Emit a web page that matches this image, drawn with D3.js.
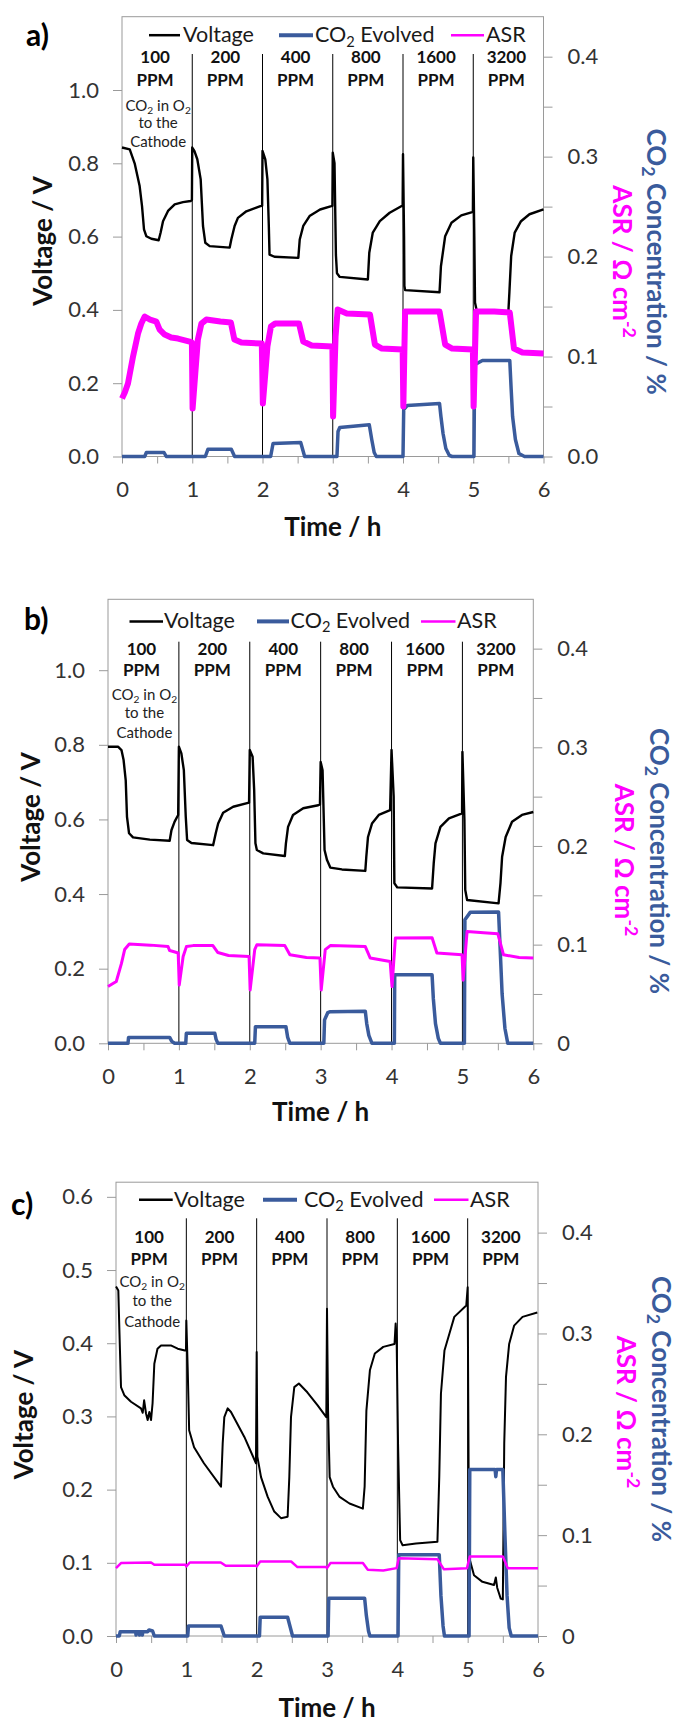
<!DOCTYPE html>
<html><head><meta charset="utf-8">
<script src="https://cdn.jsdelivr.net/npm/d3@7"></script>
<style>
html,body{margin:0;padding:0;background:#fff;}
svg{display:block;font-family:Lato,"Noto Sans",sans-serif;}
</style></head><body>
<svg id="chart" width="677" height="1726"></svg>
<script>
// ---------- DATA ----------
const hourTicks = [0,1,2,3,4,5,6];
const ppmLabels = ["100","200","400","800","1600","3200"];
const noteLines = ["CO_{2} in O_{2}","to the","Cathode"];
const seriesNames = ["Voltage","CO_{2} Evolved","ASR"];
const panelLetters = ["a)","b)","c)"];
const leftTicksAB = [0,0.2,0.4,0.6,0.8,1.0];
const leftTicksC = [0,0.1,0.2,0.3,0.4,0.5,0.6];
const rightTicks = [0,0.05,0.1,0.15,0.2,0.25,0.3,0.35,0.4];

// Panel a  [time h, value]
const voltageA = [[0,0.843],[0.11,0.838],[0.18,0.80],[0.251,0.738],[0.285,0.683],[0.313,0.62],[0.346,0.601],[0.418,0.594],[0.522,0.59],[0.55,0.611],[0.584,0.642],[0.655,0.67],[0.75,0.688],[0.868,0.694],[0.977,0.697],[0.995,0.70],
[1.0,0.843],[1.03,0.834],[1.072,0.811],[1.12,0.756],[1.153,0.629],[1.186,0.583],[1.248,0.574],[1.533,0.57],[1.556,0.592],[1.603,0.629],[1.65,0.651],[1.77,0.669],[1.97,0.683],[1.995,0.684],
[2.0,0.834],[2.04,0.811],[2.07,0.756],[2.09,0.629],[2.1,0.551],[2.17,0.545],[2.51,0.542],[2.53,0.592],[2.58,0.629],[2.67,0.656],[2.82,0.674],[2.98,0.683],[2.995,0.684],
[3.0,0.829],[3.025,0.80],[3.045,0.55],[3.06,0.50],[3.1,0.49],[3.5,0.483],[3.52,0.556],[3.57,0.611],[3.67,0.642],[3.81,0.665],[3.975,0.683],[3.995,0.684],
[4.0,0.825],[4.015,0.60],[4.02,0.465],[4.03,0.454],[4.52,0.448],[4.54,0.519],[4.6,0.601],[4.69,0.638],[4.83,0.658],[4.985,0.667],[4.995,0.668],
[5.0,0.816],[5.015,0.60],[5.025,0.42],[5.05,0.397],[5.5,0.395],[5.515,0.45],[5.54,0.547],[5.59,0.611],[5.68,0.642],[5.8,0.661],[6.0,0.674]];
const co2A = [[0,0],[0.323,0],[0.347,0.004],[0.598,0.004],[0.63,0],[1.186,0],[1.224,0.0073],[1.556,0.0073],[1.603,0],[2.116,0],[2.15,0.013],[2.544,0.014],[2.6,0],
[3.06,0],[3.075,0.025],[3.1,0.029],[3.52,0.0317],[3.555,0.017],[3.59,0.004],[3.62,0],[4.0,0],[4.01,0.047],[4.06,0.051],[4.52,0.053],[4.54,0.04],[4.57,0.023],[4.61,0.008],[4.66,0.001],[4.7,0],
[5.01,0],[5.02,0.0917],[5.13,0.096],[5.52,0.096],[5.54,0.067],[5.56,0.04],[5.6,0.017],[5.65,0.003],[5.73,0],[6,0]];
const asrA = [[0,0.058],[0.04,0.064],[0.085,0.073],[0.157,0.100],[0.228,0.123],[0.275,0.133],[0.323,0.140],[0.4,0.137],[0.489,0.135],[0.536,0.127],[0.607,0.122],[0.7,0.119],[0.797,0.118],[0.963,0.115],[0.995,0.114],
[1.005,0.048],[1.043,0.083],[1.08,0.117],[1.13,0.133],[1.2,0.137],[1.4,0.135],[1.55,0.134],[1.6,0.117],[1.7,0.114],[1.99,0.113],
[2.005,0.053],[2.04,0.083],[2.07,0.11],[2.12,0.13],[2.18,0.133],[2.52,0.133],[2.58,0.115],[2.7,0.111],[2.995,0.110],
[3.005,0.040],[3.04,0.12],[3.07,0.147],[3.2,0.143],[3.53,0.142],[3.6,0.112],[3.7,0.108],[3.995,0.107],
[4.005,0.05],[4.03,0.145],[4.3,0.145],[4.52,0.145],[4.6,0.112],[4.7,0.108],[4.995,0.107],
[5.005,0.05],[5.04,0.145],[5.3,0.145],[5.52,0.144],[5.58,0.108],[5.7,0.104],[6.0,0.103]];

// Panel b
const voltageB = [[0,0.795],[0.141,0.795],[0.19,0.786],[0.22,0.759],[0.25,0.705],[0.268,0.607],[0.297,0.563],[0.353,0.552],[0.59,0.546],[0.87,0.543],[0.895,0.571],[0.94,0.594],[0.99,0.612],
[1.0,0.795],[1.035,0.777],[1.07,0.732],[1.097,0.607],[1.116,0.545],[1.177,0.537],[1.483,0.531],[1.52,0.563],[1.554,0.589],[1.624,0.618],[1.766,0.634],[1.99,0.645],
[2.0,0.786],[2.04,0.768],[2.062,0.679],[2.08,0.536],[2.1,0.518],[2.19,0.509],[2.495,0.502],[2.51,0.536],[2.54,0.58],[2.61,0.612],[2.754,0.63],[2.966,0.638],[2.99,0.64],
[3.0,0.754],[3.027,0.732],[3.055,0.518],[3.09,0.491],[3.136,0.471],[3.3,0.466],[3.63,0.462],[3.644,0.5],[3.668,0.553],[3.724,0.589],[3.82,0.612],[3.98,0.625],
[4.0,0.786],[4.03,0.661],[4.04,0.429],[4.08,0.418],[4.572,0.415],[4.595,0.482],[4.62,0.536],[4.69,0.58],[4.81,0.603],[4.995,0.616],
[5.0,0.781],[5.028,0.6],[5.04,0.411],[5.066,0.384],[5.51,0.375],[5.537,0.429],[5.56,0.5],[5.61,0.553],[5.7,0.594],[5.84,0.612],[6.0,0.62]];
const co2B = [[0,0],[0.282,0],[0.29,0.006],[0.87,0.006],[0.9,0.002],[0.94,0],[1.097,0],[1.105,0.0102],[1.507,0.0102],[1.525,0.004],[1.55,0],[2.07,0],[2.08,0.0169],[2.51,0.0169],[2.535,0.006],[2.566,0],
[3.045,0],[3.055,0.0237],[3.1,0.031],[3.136,0.032],[3.63,0.0325],[3.65,0.02],[3.68,0.008],[3.724,0],
[4.04,0],[4.045,0.0694],[4.572,0.0694],[4.59,0.045],[4.62,0.02],[4.66,0.005],[4.69,0],
[5.028,0],[5.035,0.1253],[5.11,0.1327],[5.51,0.133],[5.53,0.1],[5.56,0.05],[5.6,0.015],[5.64,0],[6,0]];
const asrB = [[0,0.0575],[0.117,0.0626],[0.19,0.081],[0.235,0.095],[0.3,0.1006],[0.6,0.0995],[0.847,0.098],[0.87,0.094],[0.92,0.093],[0.99,0.0915],
[1.005,0.059],[1.06,0.088],[1.106,0.098],[1.2,0.099],[1.48,0.099],[1.55,0.092],[1.7,0.089],[1.99,0.088],
[2.005,0.054],[2.07,0.095],[2.1,0.0999],[2.495,0.099],[2.566,0.0897],[2.8,0.087],[2.99,0.0864],
[3.008,0.054],[3.065,0.095],[3.136,0.099],[3.63,0.098],[3.7,0.0864],[3.98,0.083],
[4.007,0.0575],[4.054,0.1067],[4.572,0.107],[4.64,0.0915],[4.995,0.0897],
[5.01,0.064],[5.066,0.1134],[5.3,0.112],[5.5,0.111],[5.58,0.0897],[5.8,0.087],[6.0,0.0864]];

// Panel c
const voltageC = [[0,0.4775],[0.033,0.472],[0.047,0.422],[0.071,0.34],[0.118,0.329],[0.213,0.32],[0.355,0.311],[0.38,0.305],[0.40,0.322],[0.427,0.304],[0.45,0.295],[0.474,0.306],[0.498,0.295],[0.52,0.318],[0.545,0.372],[0.59,0.3925],[0.64,0.397],[0.78,0.397],[0.877,0.3925],[0.98,0.39],[0.995,0.39],
[1.0,0.431],[1.02,0.363],[1.04,0.281],[1.11,0.258],[1.25,0.236],[1.493,0.204],[1.517,0.263],[1.54,0.299],[1.588,0.311],[1.635,0.306],[1.825,0.272],[1.99,0.236],
[2.0,0.388],[2.01,0.245],[2.062,0.217],[2.157,0.19],[2.25,0.17],[2.346,0.161],[2.44,0.163],[2.464,0.217],[2.488,0.299],[2.535,0.34],[2.6,0.345],[2.72,0.333],[2.867,0.315],[2.99,0.299],
[3.0,0.447],[3.015,0.308],[3.038,0.217],[3.085,0.204],[3.18,0.19],[3.32,0.181],[3.51,0.174],[3.535,0.204],[3.56,0.308],[3.61,0.363],[3.68,0.386],[3.8,0.395],[3.96,0.399],[3.976,0.427],[3.99,0.405],
[4.01,0.263],[4.04,0.131],[4.075,0.124],[4.265,0.1265],[4.57,0.1287],[4.596,0.217],[4.62,0.331],[4.67,0.39],[4.74,0.413],[4.81,0.436],[4.98,0.4516],
[5.0,0.4765],[5.02,0.108],[5.09,0.083],[5.21,0.074],[5.375,0.0696],[5.4,0.08],[5.42,0.066],[5.47,0.051],[5.5,0.05],[5.52,0.263],[5.545,0.354],[5.59,0.399],[5.66,0.424],[5.78,0.436],[5.99,0.442]];
const co2C = [[0,0],[0.047,0],[0.06,0.0043],[0.28,0.0043],[0.285,0.001],[0.29,0.0043],[0.33,0.0043],[0.335,0.001],[0.34,0.0043],[0.37,0.0043],[0.375,0.001],[0.38,0.0043],[0.45,0.0043],[0.47,0.006],[0.52,0.005],[0.545,0],
[1.02,0],[1.03,0.0099],[1.493,0.0099],[1.54,0],
[2.04,0],[2.05,0.0186],[2.44,0.0186],[2.51,0],
[3.015,0],[3.025,0.0375],[3.535,0.0375],[3.56,0.02],[3.59,0.005],[3.61,0],
[4.01,0],[4.02,0.0805],[4.596,0.0805],[4.62,0.04],[4.65,0.01],[4.67,0],
[5.02,0],[5.03,0.165],[5.39,0.165],[5.4,0.158],[5.41,0.165],[5.5,0.165],[5.53,0.1],[5.56,0.04],[5.59,0.008],[5.62,0],[6,0]];
const asrC = [[0,0.0673],[0.071,0.0723],[0.498,0.0729],[0.545,0.0706],[0.99,0.0706],
[1.0,0.069],[1.05,0.0729],[1.49,0.0729],[1.56,0.0696],[1.99,0.0696],
[2.0,0.069],[2.05,0.0739],[2.49,0.0739],[2.58,0.0683],[2.99,0.0683],
[3.0,0.0673],[3.05,0.0723],[3.51,0.0723],[3.58,0.0656],[3.8,0.065],[3.99,0.0673],
[4.02,0.0772],[4.57,0.0762],[4.66,0.0663],[4.99,0.0673],
[5.03,0.0788],[5.5,0.0788],[5.57,0.0673],[6.0,0.0673]];

// ---------- DRAWING ----------
const COL_V = "#000000", COL_C = "#3a5b9c", COL_A = "#ff00ff";
const svg = d3.select("#chart");

function rich(sel, str, fs) {
  const parts = str.split(/(_\{[^}]*\}|\^\{[^}]*\})/).filter(s => s.length);
  let shift = 0;
  parts.forEach(p => {
    let mode = 0, s = p;
    if (p.startsWith("_{")) { mode = 1; s = p.slice(2, -1); }
    else if (p.startsWith("^{")) { mode = -1; s = p.slice(2, -1); }
    const target = mode === 1 ? fs * 0.2 : mode === -1 ? -fs * 0.4 : 0;
    sel.append("tspan").attr("dy", target - shift).attr("font-size", mode ? fs * 0.68 : fs).text(s);
    shift = target;
  });
}

function styleAxis(g) {
  g.select(".domain").remove();
  g.selectAll(".tick line").attr("stroke", "#9a9a9a").attr("stroke-width", 1);
  g.selectAll(".tick text").attr("font-family", "Lato").attr("font-size", 22).attr("fill", "#333");
  g.selectAll(".tick text").filter(function () { return this.textContent === ""; }).remove();
}

function drawPanel(c) {
  const g = svg.append("g");
  const x = d3.scaleLinear().domain([0, 6]).range([c.left, c.right]);
  const yL = d3.scaleLinear().domain([0, c.vMax]).range([c.bottom, c.top]);
  const yR = d3.scaleLinear().domain([0, c.rMax]).range([c.bottom, c.top]);

  // frame
  g.append("rect").attr("x", c.left).attr("y", c.top).attr("width", c.right - c.left)
    .attr("height", c.bottom - c.top).attr("fill", "none").attr("stroke", "#9a9a9a").attr("stroke-width", 1);

  // axes
  g.append("g").attr("transform", `translate(${c.left},0)`)
    .call(d3.axisLeft(yL).tickValues(c.vTicks).tickSize(9).tickPadding(14).tickFormat(d3.format(".1f")))
    .call(styleAxis);
  g.append("g").attr("transform", `translate(${c.right},0)`)
    .call(d3.axisRight(yR).tickValues(rightTicks).tickSize(9).tickPadding(15)
      .tickFormat(d => Math.abs(d * 10 - Math.round(d * 10)) > 1e-6 ? "" : (d === 0 ? c.rZero : d3.format(".1f")(d))))
    .call(styleAxis);
  g.append("g").attr("transform", `translate(0,${c.bottom})`)
    .call(d3.axisBottom(x).tickValues(d3.range(0, 6.001, 0.5)).tickSize(7).tickPadding(18)
      .tickFormat(d => hourTicks.includes(d) ? d : ""))
    .call(styleAxis);

  // separators
  g.selectAll(".sep").data(hourTicks.slice(1, 6)).join("line")
    .attr("x1", d => x(d)).attr("x2", d => x(d)).attr("y1", c.sepTop).attr("y2", c.bottom)
    .attr("stroke", "#000").attr("stroke-width", 1);

  // series
  const lineL = d3.line().x(d => x(d[0])).y(d => yL(d[1]));
  const lineR = d3.line().x(d => x(d[0])).y(d => yR(d[1]));
  g.append("path").datum(c.voltage).attr("d", lineL).attr("fill", "none").attr("stroke", COL_V)
    .attr("stroke-width", c.vWidth).attr("stroke-linejoin", "round");
  g.append("path").datum(c.co2).attr("d", lineR).attr("fill", "none").attr("stroke", COL_C)
    .attr("stroke-width", 3.5).attr("stroke-linejoin", "round");
  g.append("path").datum(c.asr).attr("d", lineR).attr("fill", "none").attr("stroke", COL_A)
    .attr("stroke-width", c.aWidth).attr("stroke-linejoin", "round");

  // PPM labels
  ppmLabels.forEach((lab, i) => {
    const cx = x(i + 0.5) - 2;
    g.append("text").attr("x", cx).attr("y", c.numBase).attr("text-anchor", "middle")
      .attr("font-weight", "bold").attr("font-size", 17).attr("fill", "#111").text(lab);
    g.append("text").attr("x", cx).attr("y", c.ppmBase).attr("text-anchor", "middle")
      .attr("font-weight", "bold").attr("font-size", 17).attr("fill", "#111").text("PPM");
  });
  noteLines.forEach((s, i) => {
    const t = g.append("text").attr("x", x(0.5) + 1).attr("y", c.noteBases[i]).attr("text-anchor", "middle")
      .attr("font-size", 15).attr("fill", "#222");
    rich(t, s, 15);
  });

  // legend
  const cols = [COL_V, COL_C, COL_A];
  const widths = [2.5, 4, 2.5];
  c.legend.forEach((it, i) => {
    g.append("line").attr("x1", it[0]).attr("x2", it[1]).attr("y1", c.legY).attr("y2", c.legY)
      .attr("stroke", cols[i]).attr("stroke-width", widths[i]);
    const t = g.append("text").attr("x", it[2]).attr("y", c.legBase).attr("font-size", 21.5).attr("fill", "#1a1a1a");
    rich(t, seriesNames[i], 21.5);
  });

  // panel letter
  g.append("text").attr("x", c.letter[0]).attr("y", c.letter[1]).attr("font-weight", "bold")
    .attr("font-size", 30).attr("fill", "#000").text(c.letterText);

  // axis titles
  g.append("text").attr("x", x(3)).attr("y", c.timeBase).attr("text-anchor", "middle")
    .attr("font-weight", "bold").attr("font-size", 26).attr("fill", "#111").text("Time / h");
  g.append("text").attr("transform", `translate(${c.vTitle[0]},${c.vTitle[1]}) rotate(-90)`)
    .attr("text-anchor", "middle").attr("font-weight", "bold").attr("font-size", 26).attr("fill", "#111")
    .text("Voltage / V");
  const t1 = g.append("text").attr("transform", `translate(${c.cTitle[0]},${c.cTitle[1]}) rotate(90)`)
    .attr("text-anchor", "middle").attr("font-weight", "bold").attr("font-size", 26).attr("fill", COL_C);
  rich(t1, "CO_{2} Concentration / %", 26);
  const t2 = g.append("text").attr("transform", `translate(${c.aTitle[0]},${c.aTitle[1]}) rotate(90)`)
    .attr("text-anchor", "middle").attr("font-weight", "bold").attr("font-size", 26).attr("fill", COL_A);
  rich(t2, "ASR / Ω cm^{-2}", 26);
}

drawPanel({
  letterText: panelLetters[0], letter: [26, 46],
  left: 122, right: 543.5, top: 16.7, bottom: 456.5, vMax: 1.2, rMax: 0.44, rZero: "0.0",
  vTicks: leftTicksAB, sepTop: 54,
  voltage: voltageA, co2: co2A, asr: asrA, vWidth: 2.4, aWidth: 6,
  numBase: 63, ppmBase: 85.5, noteBases: [110.5, 127.5, 147],
  legY: 35.2, legBase: 42.3, legend: [[149, 180, 183], [279, 313, 315], [451, 484, 486]],
  timeBase: 536, vTitle: [52, 241], cTitle: [647, 261.6], aTitle: [613, 261.6]
});
drawPanel({
  letterText: panelLetters[1], letter: [24, 630],
  left: 108, right: 533.3, top: 599.3, bottom: 1043.3, vMax: 1.19, rMax: 0.45, rZero: "0",
  vTicks: leftTicksAB, sepTop: 641.7,
  voltage: voltageB, co2: co2B, asr: asrB, vWidth: 2.4, aWidth: 3,
  numBase: 655, ppmBase: 676, noteBases: [699.5, 717.5, 738],
  legY: 621.4, legBase: 628, legend: [[129.5, 163, 164], [257, 289, 290.6], [421, 455.5, 457]],
  timeBase: 1121, vTitle: [40, 817], cTitle: [650, 861], aTitle: [615, 860]
});
drawPanel({
  letterText: panelLetters[2], letter: [11, 1215],
  left: 116, right: 538, top: 1182.2, bottom: 1636, vMax: 0.62, rMax: 0.45, rZero: "0",
  vTicks: leftTicksC, sepTop: 1218.3,
  voltage: voltageC, co2: co2C, asr: asrC, vWidth: 2, aWidth: 2.5,
  numBase: 1243, ppmBase: 1265, noteBases: [1287, 1305.5, 1326.5],
  legY: 1199.8, legBase: 1207, legend: [[139, 172.7, 174], [263, 297, 304], [434, 468.5, 470]],
  timeBase: 1717, vTitle: [33, 1414.6], cTitle: [652, 1409], aTitle: [617, 1412]
});
</script></body></html>
